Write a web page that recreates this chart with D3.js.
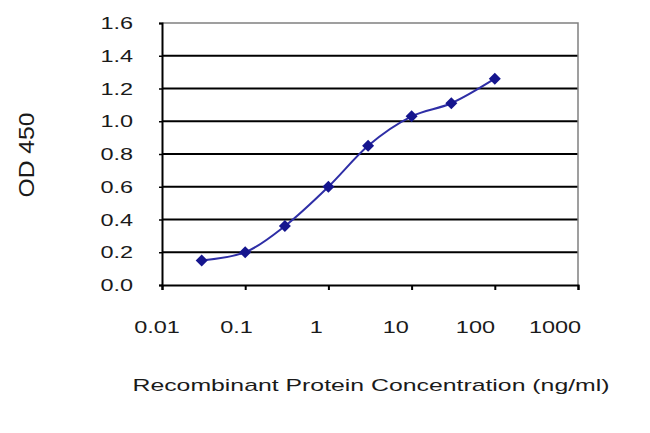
<!DOCTYPE html>
<html>
<head>
<meta charset="utf-8">
<script src="https://cdn.jsdelivr.net/npm/d3@7"></script>
<style>
  body { margin: 0; background: #fff; }
  text { font-family: "Liberation Sans", Arial, sans-serif; fill: #1a1a1a; }
</style>
</head>
<body>
<svg width="650" height="433"></svg>
<script>
// data
var concentrations = [0.03, 0.1, 0.3, 1, 3, 10, 30, 100];
var odValues = [0.15, 0.2, 0.36, 0.6, 0.85, 1.03, 1.11, 1.26];
var xTickValues = [0.01, 0.1, 1, 10, 100, 1000];
var xTickLabels = ["0.01", "0.1", "1", "10", "100", "1000"];
var yTickValues = [0, 0.2, 0.4, 0.6, 0.8, 1.0, 1.2, 1.4, 1.6];

var svg = d3.select("svg"),
    plotLeft = 162, plotRight = 578, plotTop = 23, plotBottom = 285;

var x = d3.scaleLog().domain([0.01, 1000]).range([plotLeft, plotRight]);
var y = d3.scaleLinear().domain([0, 1.6]).range([plotBottom, plotTop]);
// labels sit a little left of the ticks in the original
var xl = d3.scaleLog().domain([0.01, 1000]).range([157, 555]);

// gridlines
svg.append("g")
    .selectAll("line")
    .data(yTickValues.filter(function(d) { return d > 0 && d < 1.6; }))
    .enter().append("line")
    .attr("x1", plotLeft)
    .attr("x2", plotRight)
    .attr("y1", function(d) { return y(d); })
    .attr("y2", function(d) { return y(d); })
    .attr("stroke", "#000")
    .attr("stroke-width", 2);

// top and right border in grey
svg.append("path")
    .attr("d", "M" + plotLeft + "," + y(1.6) + "H" + plotRight + "V" + plotBottom)
    .attr("fill", "none")
    .attr("stroke", "#808080")
    .attr("stroke-width", 1.5);

// x axis
var gx = svg.append("g")
    .attr("transform", "translate(0," + plotBottom + ")")
    .call(d3.axisBottom(x).tickValues(xTickValues).tickSize(5).tickFormat(""));
gx.select(".domain").attr("stroke", "#000").attr("stroke-width", 2);
gx.selectAll(".tick line").attr("stroke", "#000").attr("stroke-width", 2);

svg.append("g")
    .selectAll("text")
    .data(xTickValues)
    .enter().append("text")
    .attr("transform", function(d) { return "translate(" + xl(d) + ",333) scale(1.38,1)"; })
    .attr("text-anchor", "middle")
    .style("font-size", "17px")
    .text(function(d, i) { return xTickLabels[i]; });

// y axis
var gy = svg.append("g")
    .attr("transform", "translate(" + plotLeft + ",0)")
    .call(d3.axisLeft(y).tickValues(yTickValues).tickSize(3).tickFormat(""));
gy.select(".domain").attr("stroke", "#000").attr("stroke-width", 2);
gy.selectAll(".tick line").attr("stroke", "#000").attr("stroke-width", 1.5);

svg.append("g")
    .selectAll("text")
    .data(yTickValues)
    .enter().append("text")
    .attr("transform", function(d) { return "translate(133," + y(d) + ") scale(1.38,1)"; })
    .attr("text-anchor", "end")
    .attr("dy", "0.36em")
    .style("font-size", "17px")
    .text(function(d) { return d3.format(".1f")(d); });

// axis titles
svg.append("text")
    .attr("x", 371)
    .attr("y", 391)
    .attr("text-anchor", "middle")
    .attr("textLength", 477)
    .attr("lengthAdjust", "spacingAndGlyphs")
    .style("font-size", "17px")
    .text("Recombinant Protein Concentration (ng/ml)");

svg.append("text")
    .attr("transform", "translate(34,155) rotate(-90) scale(1,1.4)")
    .attr("text-anchor", "middle")
    .attr("textLength", 85)
    .attr("lengthAdjust", "spacingAndGlyphs")
    .style("font-size", "16px")
    .text("OD 450");

// the curve
var line = d3.line()
    .curve(d3.curveMonotoneX)
    .x(function(d, i) { return x(concentrations[i]); })
    .y(function(d) { return y(d); });

svg.append("path")
    .datum(odValues)
    .attr("d", line)
    .attr("fill", "none")
    .attr("stroke", "#2e2ea6")
    .attr("stroke-width", 2);

svg.append("g")
    .selectAll("path")
    .data(odValues)
    .enter().append("path")
    .attr("d", d3.symbol().type(d3.symbolSquare).size(72))
    .attr("transform", function(d, i) { return "translate(" + x(concentrations[i]) + "," + y(d) + ") rotate(45)"; })
    .attr("fill", "#15158e");
</script>
</body>
</html>
